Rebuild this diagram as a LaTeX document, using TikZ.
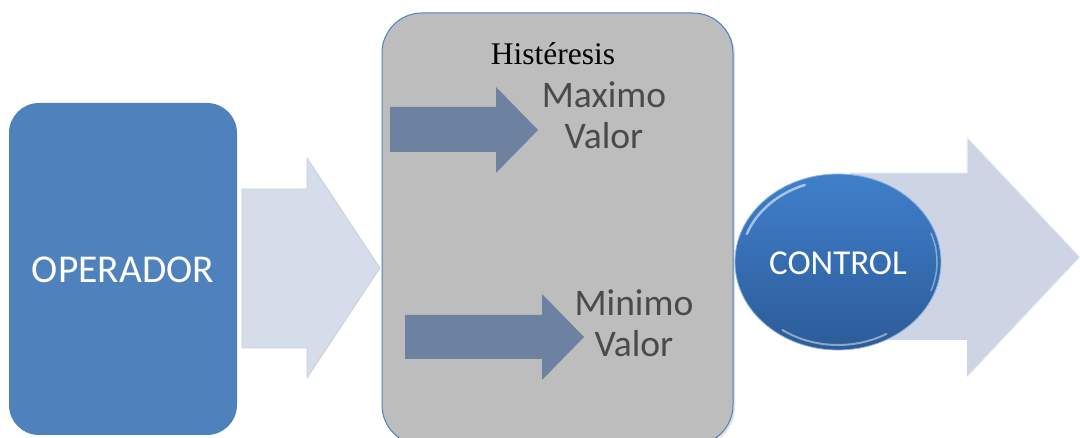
\documentclass[tikz,border=0pt]{standalone}
\usepackage{fontspec}
\setmainfont{Carlito}
\newfontfamily\serifface{Liberation Serif}
\usetikzlibrary{shadings}
\definecolor{opblue}{HTML}{4F81BD}
\definecolor{panelgray}{HTML}{BDBDBD}
\definecolor{darkarrow}{HTML}{6C82A0}
\definecolor{lightarrow}{HTML}{D5DCEA}
\definecolor{lightedge}{HTML}{C7D0E2}
\definecolor{rightarrow}{HTML}{CDD4E3}
\definecolor{labelgray}{HTML}{4A4A4A}
\definecolor{ctrltop}{HTML}{3F7FCB}
\definecolor{ctrlbot}{HTML}{2C5B98}
\tikzset{
  bigtext/.style={font=\fontsize{39.5}{46}\selectfont, text=white, inner sep=0pt},
  valtext/.style={font=\fontsize{37.5}{44}\selectfont, text=labelgray, inner sep=0pt, anchor=base},
  innerarrow/.style={fill=darkarrow, draw=none},
}
\begin{document}
\begin{tikzpicture}[x=1pt,y=-1pt]
\useasboundingbox (0,0) rectangle (1080,438);

% input block
\fill[opblue, rounded corners=30pt] (9,103) rectangle (237,435);
\node[bigtext] (op) at (123,270) {OPERADOR};

% arrow from the operator into the hysteresis panel
\filldraw[fill=lightarrow, draw=lightedge, line width=0.8pt]
  (242,189) -- (307,189) -- (307,158) -- (380,268) -- (307,378) -- (307,348) -- (242,348) -- cycle;

% output arrow behind the controller
\fill[rightarrow] (850,173) -- (967,173) -- (967,137) -- (1080,257) -- (967,377) -- (967,340) -- (850,340) -- cycle;
\draw[white!70!rightarrow, line width=1pt] (850,173) -- (967,173) -- (967,137) -- (1080,257);
\draw[white!60!rightarrow, line width=1pt] (967,377) -- (1080,257);

% hysteresis panel
\fill[black!12, rounded corners=40pt] (384,15) rectangle (735,447);
\filldraw[fill=panelgray, draw=opblue, line width=1pt, rounded corners=40pt] (382,13) rectangle (733,445);
\node[font=\serifface\fontsize{31.5}{36}\selectfont, anchor=base, inner sep=0pt] (hys) at (553,65) {Histéresis};

% threshold arrows
\fill[innerarrow] (390,107) -- (496,107) -- (496,87) -- (538,130) -- (496,173) -- (496,152) -- (390,152) -- cycle;
\fill[innerarrow] (405,315) -- (542,315) -- (542,294) -- (584,337) -- (542,380) -- (542,359) -- (405,359) -- cycle;

\node[valtext] (max1) at (604,108) {Maximo};
\node[valtext] (max2) at (604,149) {Valor};
\node[valtext] (min1) at (634,316) {Minimo};
\node[valtext] (min2) at (634,357) {Valor};

% controller
\shade[top color=ctrltop, bottom color=ctrlbot] (838,262) ellipse [x radius=103, y radius=88];
\draw[white!40!ctrltop, line width=0.8pt] (838,262) ellipse [x radius=103, y radius=88];
\draw[white, opacity=0.55, line width=2.5pt, line cap=round]
  (838,262) ++(200:97 and 82) arc[start angle=200, end angle=250, x radius=97, y radius=82];
\draw[white, opacity=0.45, line width=2pt, line cap=round]
  (838,262) ++(60:97 and 83) arc[start angle=60, end angle=125, x radius=97, y radius=83];
\draw[white, opacity=0.4, line width=1.5pt, line cap=round]
  (838,262) ++(-20:99 and 84) arc[start angle=-20, end angle=20, x radius=99, y radius=84];
\node[bigtext, font=\fontsize{35}{42}\selectfont] (ctrl) at (838,263) {CONTROL};
\end{tikzpicture}
\end{document}
